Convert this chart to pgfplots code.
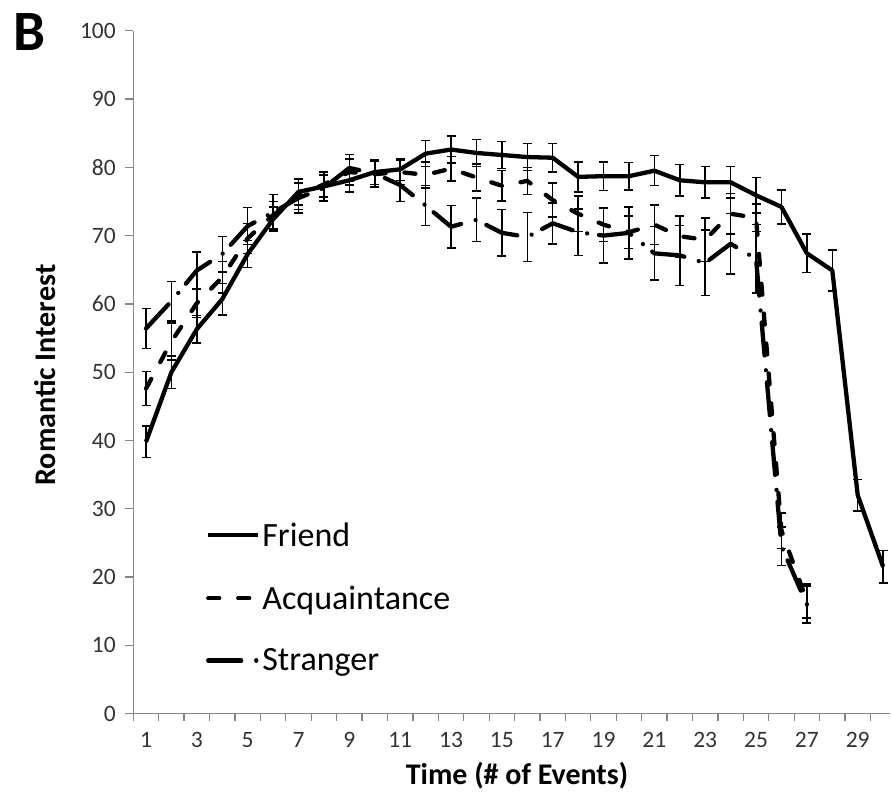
\documentclass[border=0pt]{standalone}
\usepackage{fontspec}
\setmainfont{Carlito}
\usepackage{pgfplots}
\pgfplotsset{compat=1.18}
\usepackage{pgfplotstable}

\definecolor{axisgray}{HTML}{868686}
\definecolor{labelgray}{HTML}{333333}

% time, mean romantic interest, standard error
\pgfplotstableread{
t  v     e
1  39.8  2.3
2  50.0  2.4
3  56.3  2.0
4  60.7  2.3
5  67.3  2.0
6  72.4  1.8
7  76.4  1.9
8  77.2  1.6
9  78.1  1.7
10 79.3  1.8
11 79.7  1.6
12 82.0  1.9
13 82.6  2.0
14 82.1  2.0
15 81.8  2.0
16 81.5  2.0
17 81.4  2.1
18 78.6  2.2
19 78.7  2.1
20 78.7  2.0
21 79.5  2.2
22 78.1  2.3
23 77.8  2.3
24 77.8  2.3
25 75.9  2.6
26 74.2  2.5
27 67.4  2.8
28 64.9  3.0
29 32.0  2.3
30 21.5  2.4
}\friend

\pgfplotstableread{
t  v     e
1  47.6  2.5
2  54.5  2.7
3  60.1  2.1
4  63.9  2.3
5  69.6  2.2
6  73.0  2.0
7  75.8  2.0
8  77.5  1.8
9  79.3  1.9
10 79.0  1.9
11 79.3  1.8
12 78.9  1.9
13 79.8  1.8
14 78.5  2.0
15 77.3  2.2
16 78.0  2.0
17 75.2  2.5
18 73.2  2.6
19 71.6  2.5
20 70.5  2.4
21 71.6  2.9
22 69.9  3.0
23 69.4  3.2
24 73.2  3.0
25 72.6  2.0
26 26.8  2.6
27 16.5  2.5
}\acquaintance

\pgfplotstableread{
t  v     e
1  56.4  2.9
2  60.4  2.9
3  64.9  2.7
4  67.3  2.6
5  71.4  2.7
6  73.4  2.6
7  75.5  2.2
8  77.0  1.9
9  79.9  2.0
10 79.1  2.0
11 77.4  2.4
12 74.4  2.9
13 71.3  3.1
14 72.3  3.2
15 70.4  3.4
16 69.8  3.6
17 71.8  3.0
18 70.5  3.4
19 70.0  4.0
20 70.4  3.8
21 67.4  3.9
22 67.1  4.4
23 66.0  4.8
24 68.8  4.4
25 66.6  5.0
26 24.5  2.8
27 16.0  2.7
}\stranger

\begin{document}
\begin{tikzpicture}[x=1pt,y=1pt]
\useasboundingbox (0,0) rectangle (892,801);
\node[font=\fontsize{57}{60}\selectfont\bfseries] at (29,769) {B};
\begin{axis}[
  at={(133.3pt,87.3pt)}, anchor=south west,
  scale only axis, width=756.2pt, height=683pt,
  xmin=0.5, xmax=30.25, ymin=0, ymax=100,
  axis lines*=left,
  axis line style={draw=axisgray, line width=1.3pt, -},
  tick align=outside,
  tick style={draw=axisgray, line width=1.3pt},
  major tick length=8pt, minor tick length=7pt,
  ytick={0,10,...,100},
  xtick={1,3,...,29},
  minor xtick={0.5,1.5,...,29.5},
  every major x tick/.append style={draw=none},
  /pgf/number format/assume math mode=true,
  tick label style={font=\fontsize{23.5}{28}\selectfont, text=labelgray},
  yticklabel style={xshift=-6pt},
  xticklabel style={yshift=-7pt},
  xlabel={Time (\# of Events)},
  ylabel={Romantic Interest},
  label style={font=\fontsize{30}{36}\selectfont\bfseries},
  xlabel style={at={(axis description cs:0.5074,-0.0912)}, anchor=center},
  ylabel style={at={(axis description cs:-0.1168,0.4959)}, anchor=center, rotate=0},
  legend cell align=left,
  legend style={at={(0.096,0.283)}, anchor=north west, draw=none, fill=none,
    font=\fontsize{34}{40}\selectfont, row sep=34pt, inner sep=0pt,
    nodes={inner sep=2pt},
    /tikz/every even column/.append style={column sep=0pt}},
  legend image code/.code={\draw[#1] (0pt,0pt) -- (50pt,0pt);},
  every axis plot/.append style={black, line width=4.3pt, line join=round},
  error bars/y dir=both,
  error bars/y explicit,
  error bars/error mark=-,
  error bars/error bar style={black, solid, line width=1.5pt, line cap=butt},
  error bars/error mark options={rotate=90, black, solid, line width=1.5pt, mark size=4.5pt},
]
\addplot[solid] table[x=t, y=v, y error=e] {\friend};
\addlegendentry{Friend}
\addplot[line cap=round, dash pattern=on 11pt off 19pt] table[x=t, y=v, y error=e] {\acquaintance};
\addlegendentry{Acquaintance}
\addplot[line cap=round, dash pattern=on 33pt off 15pt on 0.01pt off 12pt] table[x=t, y=v, y error=e] {\stranger};
\addlegendentry{Stranger}
\end{axis}
\end{tikzpicture}
\end{document}
